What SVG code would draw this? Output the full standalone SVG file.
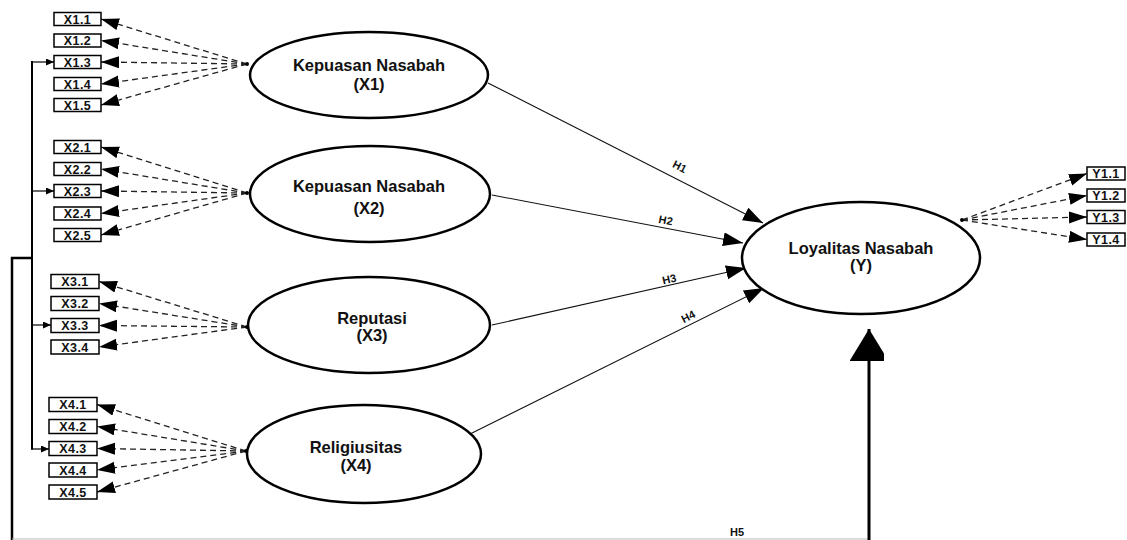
<svg xmlns="http://www.w3.org/2000/svg" width="1127" height="540" viewBox="0 0 1127 540">
<style>
.box{fill:#fff;stroke:#000;stroke-width:1.5}
.bt{font-family:"Liberation Sans",Arial,sans-serif;font-weight:bold;font-size:12.5px;letter-spacing:0.4px;text-anchor:middle;fill:#111}
.ell{fill:#fff;stroke:#000;stroke-width:2.5}
.et{font-family:"Liberation Sans",Arial,sans-serif;font-weight:bold;font-size:16.5px;text-anchor:middle;fill:#111}
.fan{stroke:#222;stroke-width:1.3;stroke-dasharray:6 4;fill:none;marker-end:url(#ah)}
.path{stroke:#111;stroke-width:1.1;fill:none;marker-end:url(#hp)}
.ht{font-family:"Liberation Sans",Arial,sans-serif;font-weight:bold;font-size:11px;text-anchor:middle;fill:#111}
.brk{stroke:#000;fill:none}
</style>
<defs>
<marker id="ah" markerUnits="userSpaceOnUse" markerWidth="20" markerHeight="14" refX="18" refY="6" orient="auto"><path d="M0,0 L18,6 L0,12 z" fill="#000"/></marker>
<marker id="hp" markerUnits="userSpaceOnUse" markerWidth="22" markerHeight="16" refX="20" refY="7" orient="auto"><path d="M0,0 L20,7 L0,14 z" fill="#000"/></marker>
<marker id="sa" markerUnits="userSpaceOnUse" markerWidth="9" markerHeight="8" refX="8" refY="3.5" orient="auto"><path d="M0,0 L8,3.5 L0,7 z" fill="#000"/></marker>
<marker id="big" markerUnits="userSpaceOnUse" markerWidth="40" markerHeight="34" refX="32" refY="19.5" orient="auto"><path d="M0,0 L32,19.5 L0,39 z" fill="#000"/></marker>
</defs>

<g id="connectors">
<line class="fan" x1="247" y1="64" x2="101" y2="19"/>
<line class="fan" x1="247" y1="64" x2="101" y2="40.5"/>
<line class="fan" x1="247" y1="64" x2="101" y2="62"/>
<line class="fan" x1="247" y1="64" x2="101" y2="84"/>
<line class="fan" x1="247" y1="64" x2="101" y2="105"/>
<line class="fan" x1="247" y1="193" x2="101" y2="147"/>
<line class="fan" x1="247" y1="193" x2="101" y2="169"/>
<line class="fan" x1="247" y1="193" x2="101" y2="191"/>
<line class="fan" x1="247" y1="193" x2="101" y2="213.5"/>
<line class="fan" x1="247" y1="193" x2="101" y2="235"/>
<line class="fan" x1="247" y1="327" x2="99" y2="281.5"/>
<line class="fan" x1="247" y1="327" x2="99" y2="303.5"/>
<line class="fan" x1="247" y1="327" x2="99" y2="325.5"/>
<line class="fan" x1="247" y1="327" x2="99" y2="347"/>
<line class="fan" x1="246" y1="451" x2="97" y2="404.5"/>
<line class="fan" x1="246" y1="451" x2="97" y2="426.5"/>
<line class="fan" x1="246" y1="451" x2="97" y2="448.5"/>
<line class="fan" x1="246" y1="451" x2="97" y2="470"/>
<line class="fan" x1="246" y1="451" x2="97" y2="492"/>
<line class="fan" x1="962" y1="220" x2="1087" y2="173.5"/>
<line class="fan" x1="962" y1="220" x2="1087" y2="195.5"/>
<line class="fan" x1="962" y1="220" x2="1087" y2="217"/>
<line class="fan" x1="962" y1="220" x2="1087" y2="239.5"/>
<circle cx="247" cy="64" r="2" fill="#000"/>
<circle cx="247" cy="193" r="2" fill="#000"/>
<circle cx="247" cy="327" r="2" fill="#000"/>
<circle cx="246" cy="451" r="2" fill="#000"/>
<circle cx="962" cy="220" r="2" fill="#000"/>
<line class="path" x1="488" y1="83" x2="763" y2="223"/>
<line class="path" x1="492" y1="195" x2="743" y2="243"/>
<line class="path" x1="492" y1="325" x2="746" y2="268"/>
<line class="path" x1="462" y1="438" x2="764" y2="288"/>
<text class="ht" transform="translate(678 170) rotate(27)">H1</text>
<text class="ht" transform="translate(665 224) rotate(11)">H2</text>
<text class="ht" transform="translate(670 283) rotate(-13)">H3</text>
<text class="ht" transform="translate(690 320) rotate(-27)">H4</text>
<line class="brk" stroke-width="2" x1="32" y1="61" x2="32" y2="449.5"/>
<line class="brk" stroke-width="1.2" x1="32" y1="62" x2="54" y2="62" marker-end="url(#sa)"/>
<line class="brk" stroke-width="1.2" x1="32" y1="191" x2="54" y2="191" marker-end="url(#sa)"/>
<line class="brk" stroke-width="1.2" x1="32" y1="325" x2="51" y2="325" marker-end="url(#sa)"/>
<line class="brk" stroke-width="1.2" x1="31" y1="449" x2="49" y2="449" marker-end="url(#sa)"/>
<polyline class="brk" stroke-width="2.5" points="32,258 12,258 12,540"/>
<line stroke="#bbb" stroke-width="1.2" x1="12" y1="539" x2="869" y2="539"/>
<line class="brk" stroke-width="3" x1="869" y1="540" x2="869" y2="329" marker-end="url(#big)"/>
<text class="ht" x="737" y="536">H5</text>
</g>

<g id="x1-items">
<rect class="box" x="54" y="12.5" width="47" height="13"/><text class="bt" x="77.5" y="23.5">X1.1</text>
<rect class="box" x="54" y="34" width="47" height="13"/><text class="bt" x="77.5" y="45">X1.2</text>
<rect class="box" x="54" y="55.5" width="47" height="13"/><text class="bt" x="77.5" y="66.5">X1.3</text>
<rect class="box" x="54" y="77.5" width="47" height="13"/><text class="bt" x="77.5" y="88.5">X1.4</text>
<rect class="box" x="54" y="98.5" width="47" height="13"/><text class="bt" x="77.5" y="109.5">X1.5</text>
</g>
<g id="x2-items">
<rect class="box" x="54" y="140.5" width="47" height="13"/><text class="bt" x="77.5" y="151.5">X2.1</text>
<rect class="box" x="54" y="162.5" width="47" height="13"/><text class="bt" x="77.5" y="173.5">X2.2</text>
<rect class="box" x="54" y="184.5" width="47" height="13"/><text class="bt" x="77.5" y="195.5">X2.3</text>
<rect class="box" x="54" y="207" width="47" height="13"/><text class="bt" x="77.5" y="218">X2.4</text>
<rect class="box" x="54" y="228.5" width="47" height="13"/><text class="bt" x="77.5" y="239.5">X2.5</text>
</g>
<g id="x3-items">
<rect class="box" x="51" y="274.5" width="48" height="14"/><text class="bt" x="75" y="286">X3.1</text>
<rect class="box" x="51" y="296.5" width="48" height="14"/><text class="bt" x="75" y="308">X3.2</text>
<rect class="box" x="51" y="318.5" width="48" height="14"/><text class="bt" x="75" y="330">X3.3</text>
<rect class="box" x="51" y="340" width="48" height="14"/><text class="bt" x="75" y="351.5">X3.4</text>
</g>
<g id="x4-items">
<rect class="box" x="49" y="397.5" width="48" height="14"/><text class="bt" x="73" y="409">X4.1</text>
<rect class="box" x="49" y="419.5" width="48" height="14"/><text class="bt" x="73" y="431">X4.2</text>
<rect class="box" x="49" y="441.5" width="48" height="14"/><text class="bt" x="73" y="453">X4.3</text>
<rect class="box" x="49" y="463" width="48" height="14"/><text class="bt" x="73" y="474.5">X4.4</text>
<rect class="box" x="49" y="485" width="48" height="14"/><text class="bt" x="73" y="496.5">X4.5</text>
</g>
<g id="y-items">
<rect class="box" x="1087" y="167" width="38" height="13"/><text class="bt" x="1106" y="178">Y1.1</text>
<rect class="box" x="1087" y="189" width="38" height="13"/><text class="bt" x="1106" y="200">Y1.2</text>
<rect class="box" x="1087" y="210.5" width="38" height="13"/><text class="bt" x="1106" y="221.5">Y1.3</text>
<rect class="box" x="1087" y="233" width="38" height="13"/><text class="bt" x="1106" y="244">Y1.4</text>
</g>

<g id="x1">
<ellipse class="ell" cx="369" cy="75" rx="119" ry="43"/>
<text class="et" x="369" y="71">Kepuasan Nasabah</text>
<text class="et" x="369" y="90">(X1)</text>
</g>
<g id="x2">
<ellipse class="ell" cx="370" cy="194" rx="120" ry="48"/>
<text class="et" x="369" y="192">Kepuasan Nasabah</text>
<text class="et" x="369" y="214">(X2)</text>
</g>
<g id="x3">
<ellipse class="ell" cx="369" cy="325" rx="121" ry="48"/>
<text class="et" x="372" y="324">Reputasi</text>
<text class="et" x="372" y="341">(X3)</text>
</g>
<g id="x4">
<ellipse class="ell" cx="364" cy="454" rx="117" ry="49"/>
<text class="et" x="356" y="453">Religiusitas</text>
<text class="et" x="356" y="471">(X4)</text>
</g>
<g id="y">
<ellipse class="ell" cx="861" cy="258" rx="119" ry="56"/>
<text class="et" x="861" y="254">Loyalitas Nasabah</text>
<text class="et" x="861" y="271">(Y)</text>
</g>
</svg>
